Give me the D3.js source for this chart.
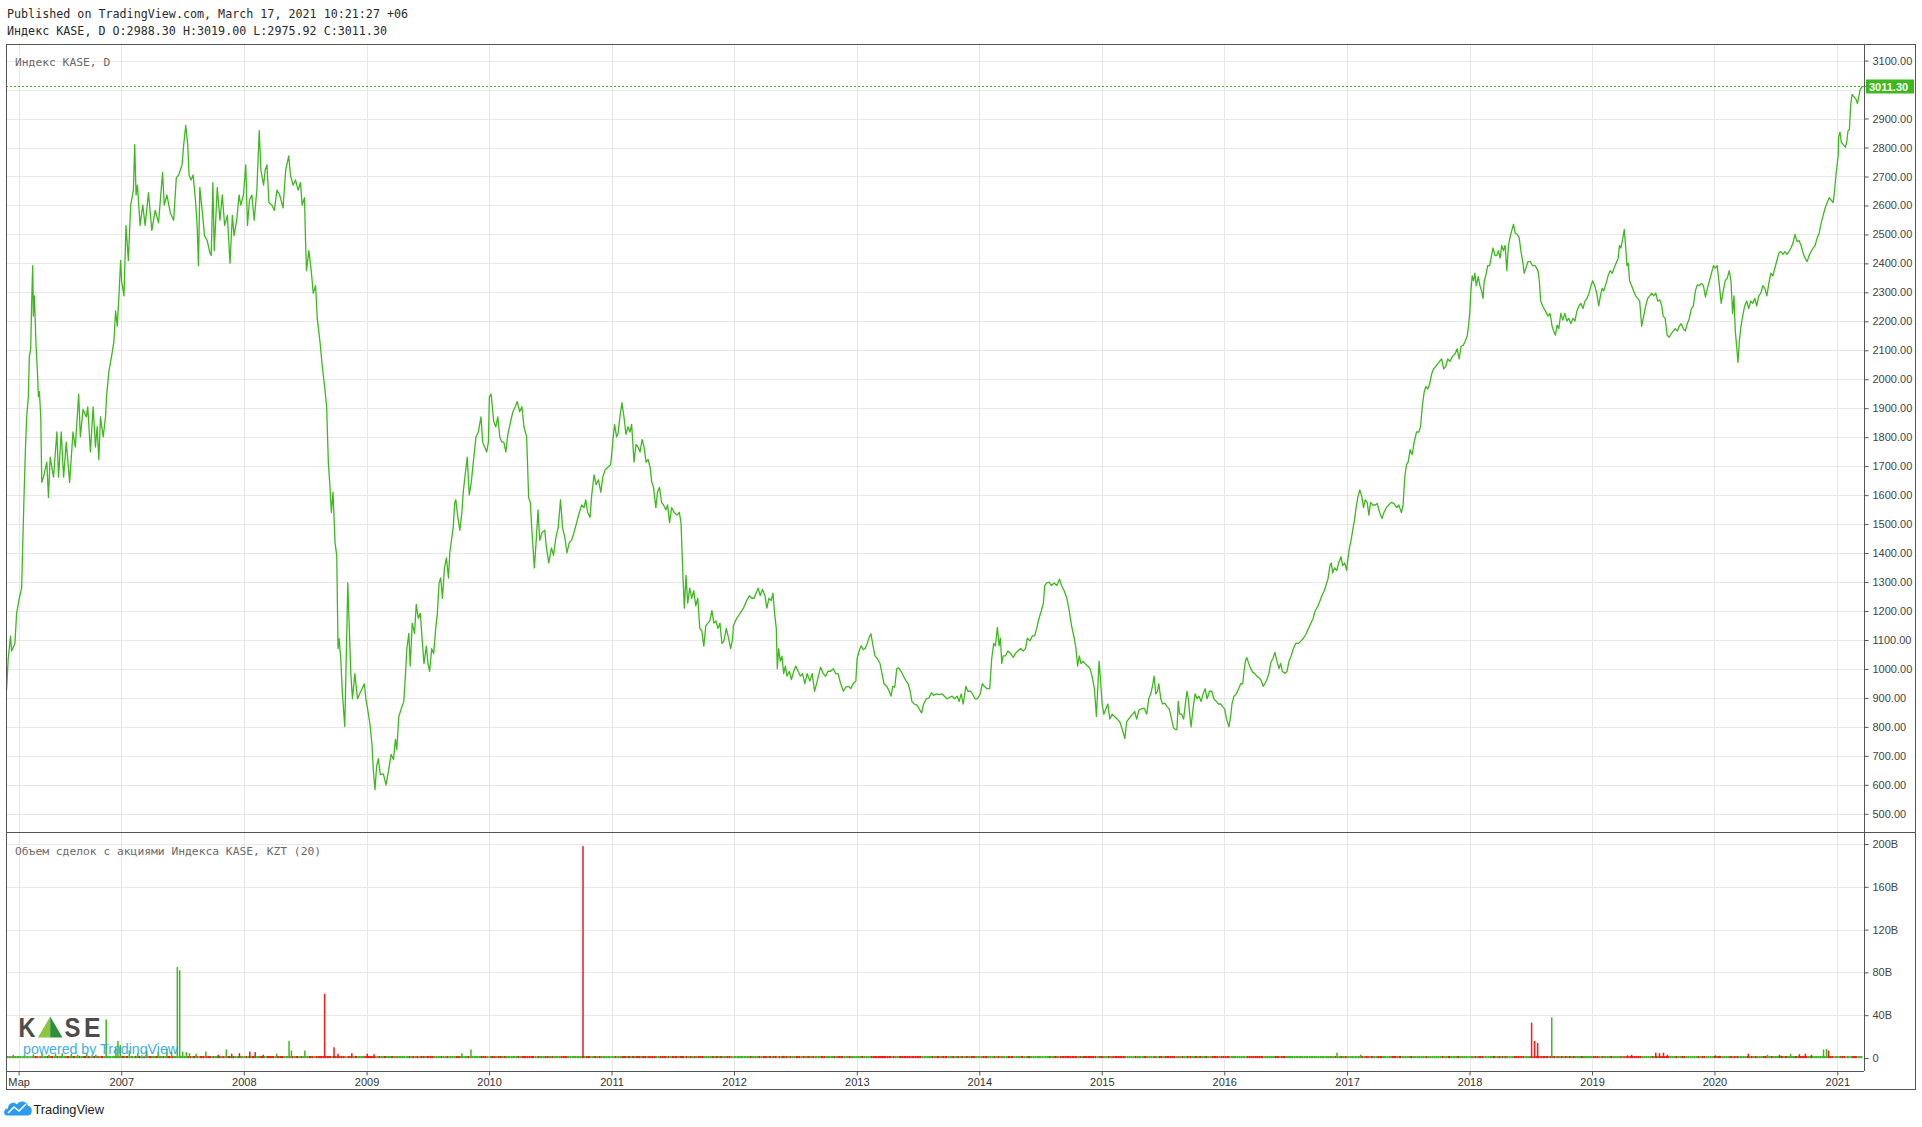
<!DOCTYPE html>
<html><head><meta charset="utf-8">
<script src="https://cdn.jsdelivr.net/npm/d3@7"></script>
<style>html,body{margin:0;padding:0;background:#fff;}svg{display:block;}</style>
</head><body>
<svg id="chart" width="1922" height="1127"></svg>
<script>
// ---------- DATA ----------
const headerLines = ["Published on TradingView.com, March 17, 2021 10:21:27 +06",
  "Индекс KASE, D O:2988.30 H:3019.00 L:2975.92 C:3011.30"];
const priceTitle = "Индекс KASE, D";
const volumeTitle = "Объем сделок с акциями Индекса KASE, KZT (20)";
const lastClose = 3011.30;

// ordinal dates (YYYY-DDD) and closes of the KASE index
const priceDates = [
"2006-024","2006-029","2006-036","2006-039","2006-049","2006-054","2006-062","2006-069","2006-072","2006-076","2006-080","2006-084","2006-089","2006-092","2006-096","2006-099","2006-102","2006-104","2006-107","2006-112","2006-116","2006-119","2006-122","2006-126","2006-129","2006-134","2006-144","2006-149","2006-154","2006-164","2006-174","2006-179","2006-187","2006-194","2006-202","2006-212","2006-222","2006-229","2006-239","2006-244","2006-252","2006-262","2006-266","2006-274","2006-282","2006-289","2006-294","2006-299","2006-304","2006-312","2006-319","2006-322","2006-329","2006-337","2006-344","2006-349","2006-354","2006-359","2006-364",
"2007-002","2007-009","2007-015","2007-022","2007-029","2007-037","2007-041","2007-045","2007-049","2007-057","2007-065","2007-072","2007-082","2007-092","2007-102","2007-112","2007-124","2007-129","2007-137","2007-147","2007-157","2007-165","2007-172","2007-182","2007-187","2007-193","2007-199","2007-203","2007-209","2007-215","2007-222","2007-227","2007-231","2007-235","2007-242","2007-249","2007-257","2007-265","2007-269","2007-274","2007-278","2007-287","2007-295","2007-302","2007-309","2007-317","2007-325","2007-332","2007-337","2007-345","2007-352","2007-357","2007-365",
"2008-007","2008-012","2008-018","2008-025","2008-032","2008-040","2008-047","2008-052","2008-060","2008-065","2008-070","2008-076","2008-085","2008-092","2008-100","2008-108","2008-118","2008-126","2008-135","2008-140","2008-148","2008-155","2008-163","2008-170","2008-175","2008-182","2008-185","2008-188","2008-195","2008-202","2008-208","2008-215","2008-220","2008-228","2008-235","2008-242","2008-248","2008-253","2008-258","2008-262","2008-267","2008-273","2008-278","2008-282","2008-285","2008-290","2008-295","2008-302","2008-307","2008-311","2008-315","2008-320","2008-325","2008-332","2008-340","2008-350","2008-360","2008-365",
"2009-004","2009-011","2009-017","2009-021","2009-026","2009-031","2009-036","2009-042","2009-051","2009-059","2009-067","2009-074","2009-081","2009-087","2009-091","2009-097","2009-104","2009-112","2009-117","2009-121","2009-127","2009-131","2009-137","2009-144","2009-149","2009-155","2009-161","2009-167","2009-172","2009-179","2009-184","2009-189","2009-195","2009-201","2009-207","2009-212","2009-217","2009-222","2009-227","2009-233","2009-239","2009-245","2009-249","2009-255","2009-259","2009-264","2009-267","2009-273","2009-279","2009-285","2009-289","2009-294","2009-301","2009-307","2009-313","2009-319","2009-327","2009-334","2009-342","2009-347","2009-353","2009-359","2009-364","2009-365",
"2010-002","2010-007","2010-015","2010-021","2010-027","2010-033","2010-039","2010-045","2010-051","2010-057","2010-065","2010-072","2010-079","2010-085","2010-092","2010-099","2010-105","2010-113","2010-119","2010-124","2010-129","2010-136","2010-142","2010-147","2010-152","2010-159","2010-167","2010-172","2010-179","2010-187","2010-193","2010-200","2010-207","2010-214","2010-220","2010-227","2010-233","2010-240","2010-247","2010-254","2010-262","2010-270","2010-277","2010-284","2010-289","2010-295","2010-302","2010-307","2010-314","2010-320","2010-327","2010-334","2010-340","2010-347","2010-355","2010-363","2010-365",
"2011-006","2011-010","2011-016","2011-020","2011-026","2011-032","2011-038","2011-044","2011-050","2011-056","2011-061","2011-068","2011-074","2011-080","2011-086","2011-092","2011-098","2011-104","2011-110","2011-116","2011-121","2011-126","2011-133","2011-138","2011-144","2011-150","2011-156","2011-163","2011-168","2011-174","2011-180","2011-188","2011-196","2011-203","2011-208","2011-214","2011-218","2011-223","2011-228","2011-234","2011-240","2011-246","2011-252","2011-258","2011-264","2011-270","2011-276","2011-282","2011-288","2011-294","2011-300","2011-306","2011-312","2011-318","2011-324","2011-330","2011-336","2011-343","2011-350","2011-356","2011-362","2011-364",
"2012-009","2012-019","2012-029","2012-039","2012-047","2012-054","2012-061","2012-067","2012-073","2012-079","2012-086","2012-093","2012-099","2012-105","2012-112","2012-117","2012-122","2012-127","2012-130","2012-134","2012-139","2012-144","2012-149","2012-154","2012-159","2012-166","2012-172","2012-179","2012-185","2012-192","2012-199","2012-205","2012-212","2012-219","2012-227","2012-234","2012-241","2012-249","2012-259","2012-267","2012-274","2012-281","2012-289","2012-297","2012-304","2012-311","2012-319","2012-327","2012-334","2012-342","2012-349","2012-356","2012-364",
"2013-002","2013-008","2013-014","2013-020","2013-026","2013-032","2013-038","2013-043","2013-048","2013-055","2013-062","2013-070","2013-076","2013-082","2013-090","2013-096","2013-103","2013-108","2013-114","2013-120","2013-126","2013-133","2013-140","2013-148","2013-154","2013-160","2013-165","2013-172","2013-180","2013-187","2013-194","2013-200","2013-208","2013-216","2013-223","2013-230","2013-238","2013-246","2013-255","2013-262","2013-270","2013-278","2013-285","2013-292","2013-300","2013-306","2013-312","2013-318","2013-326","2013-332","2013-340","2013-347","2013-353","2013-360","2013-365",
"2014-004","2014-010","2014-016","2014-024","2014-032","2014-038","2014-044","2014-049","2014-055","2014-060","2014-064","2014-068","2014-072","2014-079","2014-086","2014-094","2014-102","2014-109","2014-116","2014-124","2014-132","2014-139","2014-144","2014-152","2014-159","2014-166","2014-172","2014-179","2014-186","2014-192","2014-196","2014-202","2014-209","2014-216","2014-224","2014-232","2014-240","2014-246","2014-254","2014-262","2014-269","2014-276","2014-284","2014-289","2014-294","2014-299","2014-304","2014-310","2014-316","2014-324","2014-331","2014-337","2014-344","2014-350","2014-354","2014-358","2014-363",
"2015-002","2015-007","2015-013","2015-019","2015-025","2015-032","2015-039","2015-047","2015-055","2015-062","2015-070","2015-075","2015-081","2015-087","2015-093","2015-099","2015-105","2015-112","2015-119","2015-127","2015-135","2015-141","2015-147","2015-152","2015-157","2015-162","2015-167","2015-171","2015-177","2015-182","2015-189","2015-195","2015-202","2015-209","2015-215","2015-221","2015-225","2015-229","2015-233","2015-239","2015-245","2015-250","2015-255","2015-259","2015-263","2015-267","2015-273","2015-279","2015-285","2015-291","2015-297","2015-303","2015-309","2015-315","2015-322","2015-329","2015-335","2015-342","2015-349","2015-355","2015-361",
"2016-002","2016-008","2016-015","2016-020","2016-024","2016-030","2016-037","2016-044","2016-050","2016-056","2016-060","2016-064","2016-068","2016-074","2016-080","2016-086","2016-092","2016-098","2016-104","2016-110","2016-117","2016-122","2016-128","2016-134","2016-140","2016-146","2016-152","2016-158","2016-164","2016-169","2016-174","2016-182","2016-188","2016-194","2016-200","2016-207","2016-214","2016-222","2016-230","2016-237","2016-244","2016-252","2016-259","2016-266","2016-272","2016-279","2016-285","2016-292","2016-299","2016-304","2016-310","2016-316","2016-320","2016-324","2016-330","2016-336","2016-342","2016-349","2016-354","2016-360","2016-366",
"2017-003","2017-008","2017-013","2017-019","2017-023","2017-028","2017-033","2017-039","2017-045","2017-050","2017-055","2017-061","2017-066","2017-071","2017-078","2017-085","2017-091","2017-098","2017-105","2017-111","2017-118","2017-125","2017-133","2017-141","2017-149","2017-155","2017-163","2017-168","2017-173","2017-178","2017-183","2017-189","2017-195","2017-201","2017-208","2017-215","2017-220","2017-225","2017-231","2017-236","2017-241","2017-247","2017-253","2017-259","2017-265","2017-271","2017-277","2017-283","2017-289","2017-295","2017-301","2017-308","2017-315","2017-323","2017-329","2017-335","2017-341","2017-347","2017-353","2017-359","2017-363",
"2018-002","2018-005","2018-009","2018-013","2018-017","2018-021","2018-027","2018-032","2018-037","2018-041","2018-045","2018-051","2018-055","2018-061","2018-065","2018-071","2018-077","2018-082","2018-087","2018-092","2018-097","2018-102","2018-107","2018-112","2018-117","2018-123","2018-127","2018-132","2018-137","2018-143","2018-149","2018-154","2018-159","2018-164","2018-169","2018-175","2018-182","2018-189","2018-197","2018-205","2018-209","2018-213","2018-219","2018-227","2018-235","2018-241","2018-247","2018-252","2018-257","2018-262","2018-267","2018-273","2018-279","2018-285","2018-291","2018-297","2018-303","2018-309","2018-315","2018-321","2018-327","2018-333","2018-339","2018-345","2018-351","2018-357","2018-363",
"2019-003","2019-009","2019-015","2019-021","2019-026","2019-031","2019-036","2019-043","2019-049","2019-055","2019-061","2019-067","2019-073","2019-079","2019-083","2019-087","2019-093","2019-097","2019-101","2019-105","2019-109","2019-113","2019-119","2019-125","2019-131","2019-137","2019-143","2019-149","2019-155","2019-161","2019-167","2019-173","2019-179","2019-185","2019-191","2019-197","2019-203","2019-209","2019-213","2019-219","2019-225","2019-231","2019-237","2019-243","2019-249","2019-255","2019-261","2019-267","2019-273","2019-279","2019-285","2019-291","2019-297","2019-303","2019-309","2019-315","2019-321","2019-327","2019-333","2019-339","2019-345","2019-351","2019-357","2019-363",
"2020-003","2020-009","2020-015","2020-021","2020-027","2020-033","2020-039","2020-045","2020-050","2020-055","2020-059","2020-063","2020-067","2020-071","2020-075","2020-080","2020-085","2020-091","2020-097","2020-103","2020-109","2020-115","2020-121","2020-127","2020-133","2020-139","2020-145","2020-151","2020-157","2020-163","2020-169","2020-175","2020-181","2020-187","2020-193","2020-199","2020-205","2020-211","2020-217","2020-223","2020-229","2020-235","2020-241","2020-247","2020-253","2020-259","2020-265","2020-271","2020-277","2020-283","2020-289","2020-295","2020-301","2020-307","2020-313","2020-319","2020-325","2020-331","2020-337","2020-343","2020-349","2020-355","2020-359","2020-363",
"2021-004","2021-005","2021-009","2021-013","2021-019","2021-025","2021-029","2021-033","2021-037","2021-041","2021-045","2021-051","2021-057","2021-061","2021-065","2021-069","2021-076"];
const priceCloses = [
926,1036,1114,1062,1088,1192,1244,1279,1418,1592,1749,1870,1940,2079,2105,2270,2392,2218,2288,2114,2027,1940,1957,1870,1644,1662,1714,1592,1731,1662,1818,1662,1818,1662,1783,1644,1818,1766,1949,1801,1896,1870,1905,1749,1905,1766,1836,1722,1870,1801,1870,1940,2027,2079,2131,2236,2183,2288,2410,
2340,2288,2531,2410,2601,2653,2810,2636,2670,2531,2601,2531,2644,2514,2583,2540,2714,2601,2636,2575,2549,2696,2705,2740,2810,2876,2810,2705,2688,2705,2618,2531,2392,2662,2583,2496,2479,2436,2427,2679,2444,2662,2549,2636,2531,2566,2401,2566,2496,2549,2636,2601,2636,
2740,2531,2618,2636,2549,2653,2858,2723,2670,2723,2740,2610,2601,2583,2653,2636,2592,2723,2771,2705,2670,2688,2653,2679,2601,2627,2479,2375,2444,2375,2297,2323,2210,2131,2044,1975,1905,1714,1627,1540,1610,1436,1392,1070,1105,1036,914,801,1070,1297,1158,984,897,984,897,923,949,897,
862,810,740,653,583,665,690,635,638,600,653,705,688,757,722,835,862,888,984,1070,1123,1010,1158,1123,1223,1175,1192,1097,1018,1079,1018,992,1070,1053,1140,1192,1297,1314,1244,1349,1383,1314,1401,1453,1488,1575,1584,1523,1479,1540,1610,1662,1731,1601,1644,1714,1801,1818,1870,1783,1766,1749,1783,1836,
1940,1949,1853,1836,1870,1801,1783,1783,1749,1810,1853,1888,1905,1923,1888,1905,1836,1801,1592,1575,1471,1349,1453,1549,1444,1471,1479,1418,1366,1418,1392,1453,1488,1584,1488,1453,1401,1436,1444,1471,1505,1540,1566,1557,1584,1540,1523,1601,1670,1636,1653,1610,1662,1688,1696,1705,1723,
1801,1844,1801,1810,1870,1919,1870,1810,1836,1818,1844,1714,1775,1766,1749,1792,1766,1714,1723,1696,1644,1627,1557,1610,1627,1575,1566,1549,1566,1505,1557,1540,1531,1540,1505,1314,1210,1323,1227,1279,1244,1270,1218,1244,1140,1132,1079,1149,1158,1166,1201,1158,1166,1140,1158,1088,1097,1140,1105,1070,1105,1149,
1175,1192,1210,1236,1253,1244,1244,1262,1279,1253,1275,1253,1210,1244,1236,1262,1192,1140,1001,1070,1027,1044,984,1010,975,992,963,992,1010,992,975,984,949,984,958,984,923,958,1006,984,975,992,992,1001,984,984,949,923,937,940,932,949,958,
1036,1062,1080,1066,1071,1088,1110,1121,1088,1045,1036,1019,984,949,940,927,906,940,937,1001,1004,992,975,958,949,923,888,879,875,862,848,879,897,900,918,909,914,911,914,906,897,902,906,897,906,888,914,879,940,923,923,911,897,897,906,
914,949,940,932,932,1036,1088,1080,1143,1080,1106,1019,1045,1045,1062,1054,1040,1054,1062,1071,1062,1071,1106,1097,1114,1114,1140,1175,1201,1227,1288,1297,1300,1288,1297,1288,1310,1288,1270,1244,1201,1149,1106,1071,1010,1045,1019,1027,1019,1010,1001,975,932,836,932,1027,949,
879,844,862,879,827,844,836,827,817,791,760,817,827,836,844,853,827,858,862,865,844,897,914,940,975,914,923,949,897,879,882,870,862,827,796,791,791,888,844,844,827,879,923,897,844,800,862,914,897,906,888,914,932,897,923,923,897,888,879,879,870,
862,827,800,836,879,906,914,932,949,949,992,1027,1040,1019,1001,988,984,975,970,963,940,949,963,984,1023,1036,1057,1027,1001,1019,992,984,992,1027,1044,1070,1088,1088,1097,1106,1119,1140,1158,1175,1201,1214,1231,1253,1270,1288,1310,1357,1366,1331,1349,1340,1366,1387,1357,1366,1340,
1375,1418,1444,1488,1514,1557,1592,1618,1595,1557,1584,1575,1531,1575,1566,1566,1571,1540,1519,1540,1557,1566,1575,1571,1557,1566,1540,1566,1662,1705,1714,1757,1740,1783,1818,1818,1836,1905,1957,1975,1966,1983,2018,2036,2044,2053,2062,2070,2036,2044,2070,2062,2079,2088,2105,2070,2114,2117,2131,2149,2183,
2236,2305,2357,2340,2366,2323,2354,2323,2305,2279,2340,2366,2392,2392,2418,2453,2427,2427,2444,2418,2462,2444,2462,2375,2462,2497,2514,2535,2505,2500,2488,2444,2410,2366,2384,2406,2406,2392,2392,2375,2340,2270,2253,2236,2218,2227,2183,2166,2152,2187,2175,2227,2204,2227,2201,2210,2192,2210,2201,2236,2253,2262,2244,2270,2279,2297,2323,
2340,2323,2297,2253,2288,2314,2305,2331,2357,2375,2366,2384,2401,2418,2462,2453,2488,2517,2462,2392,2401,2340,2323,2305,2288,2279,2270,2183,2218,2253,2279,2288,2297,2288,2297,2270,2274,2253,2218,2210,2152,2145,2157,2166,2175,2166,2183,2192,2175,2166,2192,2210,2244,2253,2305,2326,2323,2331,2323,2284,2314,2340,2366,2392,
2384,2392,2331,2262,2305,2340,2349,2375,2340,2227,2288,2166,2114,2058,2131,2183,2218,2253,2270,2244,2270,2262,2279,2253,2288,2297,2323,2314,2288,2331,2366,2357,2384,2410,2436,2441,2431,2441,2431,2441,2453,2470,2500,2475,2479,2462,2436,2418,2406,2427,2441,2453,2462,2488,2505,2540,2566,2592,2610,2627,2618,2610,2653,2705,
2775,2836,2853,2818,2810,2801,2818,2858,2862,2949,2983,2975,2966,2952,2975,3000,3011.30];

// daily trading volume spikes (billion KZT) and whether the day closed up
const volDates = ["2006-044","2006-077","2006-104","2006-130","2006-150","2006-170","2006-190","2006-217","2006-236","2006-263","2006-290","2006-321","2006-350","2006-356","2006-363",
"2007-025","2007-050","2007-077","2007-111","2007-137","2007-151","2007-168","2007-175","2007-184","2007-195","2007-204","2007-224","2007-253","2007-290","2007-314","2007-330","2007-353",
"2008-019","2008-035","2008-059","2008-099","2008-136","2008-143","2008-183","2008-242","2008-252","2008-270","2008-282","2008-323",
"2009-003","2009-023","2009-066","2009-192","2009-285","2009-312","2010-281","2012-149","2014-214","2016-337","2017-042",
"2018-186","2018-195","2018-204","2018-246","2018-353","2019-107","2019-119","2019-191","2019-202","2019-214","2019-226",
"2020-004","2020-016","2020-102","2020-159","2020-195","2020-228","2020-254","2020-272","2020-290","2020-326","2020-335","2020-341","2021-008"];
const volValues = [3,2.5,3.5,4.5,3,4,4.5,4,3,4.5,3,36,10,16,12,
7,4.5,7,6,8.5,5.5,85,82,6,5.5,4.5,4,6,3,8,4,4.5,
6,5.5,3,4,16,7,7,60,2,10,4,4.5,
4,3.5,2,2,4.5,8,198,2,1.5,5,3,
33,16,14,38,1.5,2.5,3,5,4.5,5,3,
2.5,2,4,3,3,4,3.5,4,3,8,8.5,7,1.5];
const volUp = [1,1,1,1,1,1,1,1,1,1,1,1,1,1,1,
1,1,1,1,1,1,1,1,1,1,1,1,1,0,1,0,0,
0,0,0,1,1,1,1,0,0,0,0,0,
0,0,1,0,1,1,0,0,1,1,1,
0,0,0,1,1,0,0,0,0,0,0,
0,0,0,1,0,1,0,0,0,1,1,0,1];

const timeTicks = ["2006-060","2007-001","2008-001","2009-001","2010-001","2011-001","2012-001","2013-001","2014-001","2015-001","2016-001","2017-001","2018-001","2019-001","2020-001","2021-001"];
const timeLabels = ["Мар","2007","2008","2009","2010","2011","2012","2013","2014","2015","2016","2017","2018","2019","2020","2021"];
const priceTicks = [500,600,700,800,900,1000,1100,1200,1300,1400,1500,1600,1700,1800,1900,2000,2100,2200,2300,2400,2500,2600,2700,2800,2900,3000,3100];
const volTicks = [0,40,80,120,160,200];

// ---------- LAYOUT ----------
const L = {left:6, right:1864, boxRight:1916, top:44, divider:832.5, volBottom:1071, boxBottom:1090};
const GREEN = "#3fb81f", RED = "#f01c1c", GRID = "#e8e8e8", FRAME = "#555";
const MONO = "'DejaVu Sans Mono', monospace", SANS = "'Liberation Sans', Arial, sans-serif";

const parse = d3.timeParse("%Y-%j");
const prices = priceDates.map((d,i)=>({date:parse(d), v:priceCloses[i]}));
const vols = volDates.map((d,i)=>({date:parse(d), v:volValues[i], up:volUp[i]===1}));
const ticks = timeTicks.map(parse);

const svg = d3.select("#chart");
svg.append("rect").attr("width",1922).attr("height",1127).attr("fill","#fff");

const x = d3.scaleTime().domain([new Date(2007,0,1), new Date(2021,0,1)]).range([121.3, 1837.3]);
const y = d3.scaleLinear().domain([500,3100]).range([813.8,60.6]);
const yv = d3.scaleLinear().domain([0,200]).range([1058,844]);
const crisp = v => Math.round(v)+0.5;
const yLast = crisp(y(lastClose));

const defs = svg.append("defs");
defs.append("clipPath").attr("id","clipP").append("rect")
  .attr("x",L.left).attr("y",L.top).attr("width",L.right-L.left).attr("height",L.divider-L.top);
defs.append("clipPath").attr("id","clipV").append("rect")
  .attr("x",L.left).attr("y",L.divider).attr("width",L.right-L.left).attr("height",L.volBottom-L.divider);

// grid
const grid = svg.append("g").attr("stroke",GRID).attr("stroke-width",1).attr("shape-rendering","crispEdges");
grid.selectAll("line.gp").data(priceTicks).join("line").attr("class","gp")
  .attr("x1",L.left).attr("x2",L.right).attr("y1",d=>crisp(y(d))).attr("y2",d=>crisp(y(d)));
grid.selectAll("line.gv").data(volTicks).join("line").attr("class","gv")
  .attr("x1",L.left).attr("x2",L.right).attr("y1",d=>crisp(yv(d))).attr("y2",d=>crisp(yv(d)));
grid.selectAll("line.gx").data(ticks).join("line").attr("class","gx")
  .attr("x1",d=>crisp(x(d))).attr("x2",d=>crisp(x(d))).attr("y1",L.top).attr("y2",L.volBottom);

// pane titles
svg.append("text").attr("x",15).attr("y",66).attr("font-family",MONO).attr("font-size",11.3)
  .attr("fill","#6a6a6a").text(priceTitle);
svg.append("text").attr("x",15).attr("y",855).attr("font-family",MONO).attr("font-size",11.3)
  .attr("fill","#6a6a6a").text(volumeTitle);

// last price dotted line
svg.append("line").attr("x1",L.left).attr("x2",L.right).attr("y1",yLast).attr("y2",yLast)
  .attr("stroke",GREEN).attr("stroke-width",1).attr("stroke-dasharray","2 2");

// price line
svg.append("path").datum(prices).attr("clip-path","url(#clipP)")
  .attr("fill","none").attr("stroke",GREEN).attr("stroke-width",1.3).attr("stroke-linejoin","round")
  .attr("d", d3.line().x(d=>x(d.date)).y(d=>y(d.v)));

// volume pane: baseline strip coloured by direction of consecutive closes
const vg = svg.append("g").attr("clip-path","url(#clipV)");
const segs = prices.slice(1).map((d,i)=>({a:prices[i], b:d}));
vg.selectAll("line.base").data(segs).join("line").attr("class","base")
  .attr("x1",d=>x(d.a.date)).attr("x2",d=>x(d.b.date))
  .attr("y1",yv(0)-1).attr("y2",yv(0)-1)
  .attr("stroke",d=>d.b.v>=d.a.v?GREEN:RED).attr("stroke-width",2);
vg.selectAll("rect.vol").data(vols).join("rect").attr("class","vol")
  .attr("x",d=>x(d.date)-0.75).attr("width",1.5)
  .attr("y",d=>yv(d.v)).attr("height",d=>yv(0)-yv(d.v))
  .attr("fill",d=>d.up?GREEN:RED);

// axes
function styleAxis(g){
  g.select(".domain").remove();
  g.selectAll("line").attr("stroke",FRAME);
  g.selectAll("text").attr("font-family",SANS).attr("font-size",11).attr("fill","#444");
}
// price labels hidden where the last-price tag covers them
svg.append("g").attr("transform",`translate(${L.right+0.5},0)`)
  .call(d3.axisRight(y).tickValues(priceTicks.filter(v=>Math.abs(y(v)-yLast)>10))
    .tickFormat(d3.format(".2f")).tickSize(4).tickPadding(4))
  .call(styleAxis);
svg.append("g").attr("transform",`translate(${L.right+0.5},0)`)
  .call(d3.axisRight(yv).tickValues(volTicks).tickFormat(d=>d===0?"0":d+"B").tickSize(4).tickPadding(4))
  .call(styleAxis);
svg.append("g").attr("transform",`translate(0,${L.volBottom+0.5})`)
  .call(d3.axisBottom(x).tickValues(ticks).tickFormat((d,i)=>timeLabels[i]).tickSize(4).tickPadding(3))
  .call(styleAxis)
  .call(g=>g.selectAll("text").attr("fill","#333"));

// last price tag
svg.append("line").attr("x1",L.right).attr("x2",L.right+5).attr("y1",yLast).attr("y2",yLast).attr("stroke",GREEN);
svg.append("rect").attr("x",L.right+2).attr("y",yLast-7).attr("width",48).attr("height",14).attr("fill",GREEN);
svg.append("text").attr("x",L.right+5).attr("y",yLast+4).attr("font-family",SANS).attr("font-size",11)
  .attr("font-weight","bold").attr("fill","#fff").text(d3.format(".2f")(lastClose));

// frame
const fr = svg.append("g").attr("stroke",FRAME).attr("stroke-width",1).attr("fill","none").attr("shape-rendering","crispEdges");
fr.append("rect").attr("x",L.left+0.5).attr("y",L.top+0.5).attr("width",L.boxRight-L.left-1).attr("height",L.boxBottom-L.top-1);
fr.append("line").attr("x1",L.right+0.5).attr("x2",L.right+0.5).attr("y1",L.top).attr("y2",L.volBottom);
fr.append("line").attr("x1",L.left).attr("x2",L.boxRight).attr("y1",L.divider).attr("y2",L.divider);
fr.append("line").attr("x1",L.left).attr("x2",L.right).attr("y1",L.volBottom+0.5).attr("y2",L.volBottom+0.5);

// header
svg.selectAll("text.hdr").data(headerLines).join("text").attr("class","hdr")
  .attr("x",7).attr("y",(d,i)=>18+i*17).attr("font-family",MONO).attr("font-size",11.7)
  .attr("fill","#2a2a2a").text(d=>d);

// KASE watermark logo
const lg = svg.append("g");
const letter = (t,xx,w)=>lg.append("text").attr("x",xx).attr("y",1036.5).attr("font-family",SANS)
  .attr("font-weight","bold").attr("font-size",27).attr("fill","#4d4d4d")
  .attr("textLength",w).attr("lengthAdjust","spacingAndGlyphs").text(t);
letter("K",18.5,17); letter("S",64.5,16); letter("E",84,16.5);
lg.append("path").attr("d","M38,1037.5 L50.2,1016.5 L50.2,1037.5 Z").attr("fill","#8cc63f");
lg.append("path").attr("d","M50.2,1016.5 L62.5,1037.5 L50.2,1037.5 Z").attr("fill","#2f8f3a");
lg.append("text").attr("x",23).attr("y",1054).attr("font-family",SANS).attr("font-size",14.2)
  .attr("fill","#44aee6").text("powered by TradingView");

// TradingView footer
const ft = svg.append("g");
ft.append("path").attr("d","M7,1115.5 C3,1115.5 3,1108.5 8,1108.5 C8,1103 14,1101 17,1104.5 C19,1100 27,1100.5 28,1106 C33,1106 33,1115.5 28,1115.5 Z")
  .attr("fill","#2a9bf0");
ft.append("polyline").attr("points","8,1113 14,1107 19,1111 26,1104")
  .attr("fill","none").attr("stroke","#fff").attr("stroke-width",1.6);
ft.append("text").attr("x",33.5).attr("y",1113.5).attr("font-family",SANS).attr("font-size",12.8)
  .attr("fill","#1d1d1d").text("TradingView");
</script>
</body></html>
